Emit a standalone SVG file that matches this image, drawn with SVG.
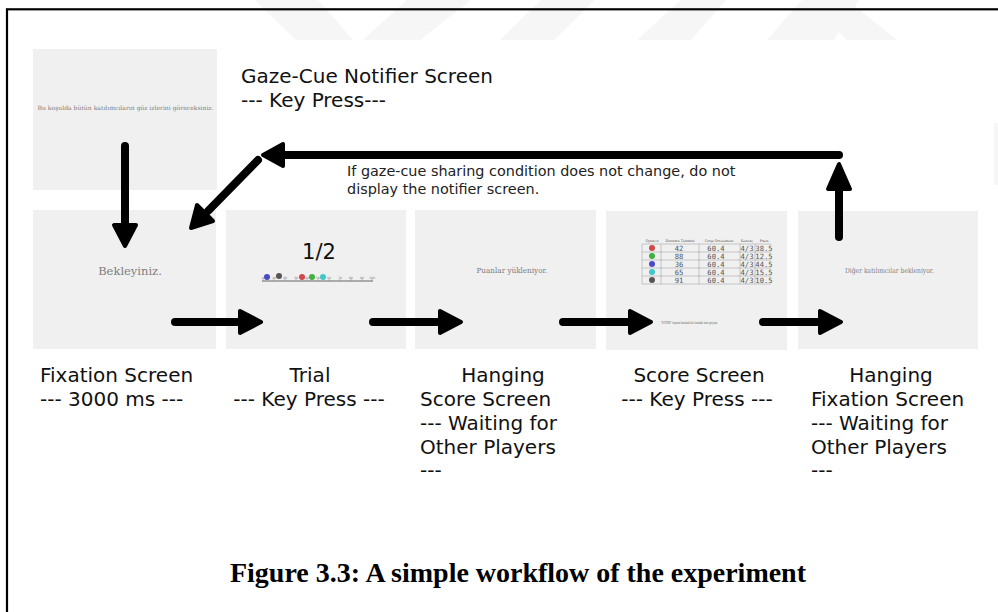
<svg xmlns="http://www.w3.org/2000/svg" width="998" height="612" viewBox="0 0 998 612">
  <defs>
    <style>
      .screen { fill: #f0f0f0; }
      .serif-msg { font-family: "DejaVu Serif", "Liberation Serif", serif; fill: #7e7e7e; text-anchor: middle; }
      .label { font-family: "DejaVu Sans", "Liberation Sans", sans-serif; font-size: 20px; fill: #111; }
      .note { font-family: "DejaVu Sans", "Liberation Sans", sans-serif; font-size: 14.4px; fill: #222; }
      .shaft { stroke: #000; stroke-width: 8; stroke-linecap: round; fill: none; }
      .head { fill: #000; stroke: #000; stroke-width: 4; stroke-linejoin: round; }
      .mark { fill: #f6f6f6; }
      .tbl { stroke: #a8a8a8; stroke-width: 0.6; fill: none; }
      .tblnum { font-family: "DejaVu Sans Mono", "Liberation Mono", monospace; font-size: 7.2px; fill: #555; text-anchor: middle; }
      .tblhead { font-family: "DejaVu Serif", "Liberation Serif", serif; font-size: 3.4px; fill: #555; text-anchor: middle; }
      .tick { font-family: "DejaVu Sans", sans-serif; font-size: 3.2px; fill: #888; text-anchor: middle; }
    </style>
  </defs>

  <rect x="0" y="0" width="998" height="612" fill="#ffffff"/>

  <!-- faint background logo bars -->
  <g id="watermark">
    <polygon class="mark" points="255,0 318,0 353,40 296,40"/>
    <polygon class="mark" points="407,0 471,0 420,40 363,40"/>
    <polygon class="mark" points="541,0 595,0 554,40 500,40"/>
    <polygon class="mark" points="681,0 726,0 691,40 637,40"/>
    <polygon class="mark" points="802,0 859,0 834,40 767,40"/>
    <polygon class="mark" points="808,0 847,0 897,40 847,40"/>
    <rect class="mark" x="994" y="123" width="4" height="62"/>
  </g>

  <!-- page frame -->
  <rect x="7" y="9.3" width="1010" height="640" fill="none" stroke="#000" stroke-width="2.2"/>

  <!-- notifier screen -->
  <g id="notifier">
    <rect class="screen" x="33" y="49" width="184" height="141"/>
    <text class="serif-msg" x="125.5" y="110" font-size="6" textLength="176" lengthAdjust="spacingAndGlyphs">Bu koşulda bütün katılımcıların göz izlerini göreceksiniz.</text>
    <text class="label" x="241" y="83">Gaze-Cue Notifier Screen</text>
    <text class="label" x="241" y="107">--- Key Press---</text>
  </g>

  <!-- fixation screen -->
  <g id="fixation">
    <rect class="screen" x="33" y="210" width="183" height="139"/>
    <text class="serif-msg" x="130" y="275" font-size="11.5">Bekleyiniz.</text>
    <text class="label" x="40" y="382">Fixation Screen</text>
    <text class="label" x="40" y="406">--- 3000 ms ---</text>
  </g>

  <!-- trial screen -->
  <g id="trial">
    <rect class="screen" x="226" y="210" width="180" height="139"/>
    <text x="319" y="259" font-family="DejaVu Sans, Liberation Sans, sans-serif" font-size="21" fill="#111" text-anchor="middle">1/2</text>
    <line x1="262" y1="281" x2="373" y2="281" stroke="#555" stroke-width="0.9"/>
    <g stroke="#888" stroke-width="0.5">
      <line x1="263" y1="278" x2="263" y2="281"/><line x1="274" y1="278" x2="274" y2="281"/>
      <line x1="285" y1="278" x2="285" y2="281"/><line x1="296" y1="278" x2="296" y2="281"/>
      <line x1="307" y1="278" x2="307" y2="281"/><line x1="318" y1="278" x2="318" y2="281"/>
      <line x1="329" y1="278" x2="329" y2="281"/><line x1="340" y1="278" x2="340" y2="281"/>
      <line x1="351" y1="278" x2="351" y2="281"/><line x1="362" y1="278" x2="362" y2="281"/>
      <line x1="372" y1="278" x2="372" y2="281"/>
    </g>
    <g class="tick">
      <text x="263" y="279">0</text><text x="274" y="279">10</text><text x="285" y="279">20</text>
      <text x="296" y="279">30</text><text x="307" y="279">40</text><text x="318" y="279">50</text>
      <text x="329" y="279">60</text><text x="340" y="279">70</text><text x="351" y="279">80</text>
      <text x="362" y="279">90</text><text x="372" y="279">100</text>
    </g>
    <circle cx="267" cy="277" r="3" fill="#4a4ac8"/>
    <circle cx="279" cy="276" r="3" fill="#555"/>
    <circle cx="302" cy="277" r="3" fill="#d04848"/>
    <circle cx="312" cy="277" r="3" fill="#40b040"/>
    <circle cx="323" cy="277" r="3" fill="#40c8c8"/>
    <text class="label" x="310" y="382" text-anchor="middle">Trial</text>
    <text class="label" x="309" y="406" text-anchor="middle">--- Key Press ---</text>
  </g>

  <!-- hanging score screen -->
  <g id="hanging-score">
    <rect class="screen" x="415" y="210" width="181" height="139"/>
    <text class="serif-msg" x="512" y="273" font-size="8" textLength="71" lengthAdjust="spacingAndGlyphs">Puanlar yükleniyor.</text>
    <text class="label" x="503" y="382" text-anchor="middle">Hanging</text>
    <text class="label" x="420" y="406">Score Screen</text>
    <text class="label" x="420" y="430">--- Waiting for</text>
    <text class="label" x="420" y="454">Other Players</text>
    <text class="label" x="420" y="477">---</text>
  </g>

  <!-- score screen -->
  <g id="score">
    <rect class="screen" x="606" y="211" width="181" height="139"/>
    <path class="tbl" d="M642,244 H771 M642,252 H771 M642,260 H771 M642,268 H771 M642,276 H771 M642,284 H771 M642,244 V284 M661,244 V284 M699,244 V284 M740,244 V284 M755,244 V284"/>
    <g class="tblhead">
      <text x="652" y="242">Oyuncu</text>
      <text x="680" y="242">Durumu Tahmini</text>
      <text x="719" y="242">Grup Ortalaması</text>
      <text x="747" y="242">Kazanç</text>
      <text x="764" y="242">Puan</text>
    </g>
    <circle cx="652" cy="248" r="3" fill="#d04848"/>
    <circle cx="652" cy="256" r="3" fill="#40b040"/>
    <circle cx="652" cy="264" r="3" fill="#4a4ac8"/>
    <circle cx="652" cy="272" r="3" fill="#40c8c8"/>
    <circle cx="652" cy="280" r="3" fill="#555"/>
    <g class="tblnum">
      <text x="679" y="250.5">42</text><text x="716" y="250.5">60.4</text><text x="747" y="250.5">4/3</text><text x="764" y="251">38.5</text>
      <text x="679" y="258.5">88</text><text x="716" y="258.5">60.4</text><text x="747" y="258.5">4/3</text><text x="764" y="259">12.5</text>
      <text x="679" y="266.5">36</text><text x="716" y="266.5">60.4</text><text x="747" y="266.5">4/3</text><text x="764" y="267">44.5</text>
      <text x="679" y="274.5">65</text><text x="716" y="274.5">60.4</text><text x="747" y="274.5">4/3</text><text x="764" y="275">15.5</text>
      <text x="679" y="282.5">91</text><text x="716" y="282.5">60.4</text><text x="747" y="282.5">4/3</text><text x="764" y="283">10.5</text>
    </g>
    <text x="689.5" y="324" font-family="DejaVu Serif, Liberation Serif, serif" font-size="4" fill="#666" text-anchor="middle" textLength="57" lengthAdjust="spacingAndGlyphs">"ENTER" tuşuna basarak bir sonraki tura geçiniz.</text>
    <text class="label" x="699" y="382" text-anchor="middle">Score Screen</text>
    <text class="label" x="697" y="406" text-anchor="middle">--- Key Press ---</text>
  </g>

  <!-- hanging fixation screen -->
  <g id="hanging-fixation">
    <rect class="screen" x="798" y="211" width="180" height="138"/>
    <text class="serif-msg" x="889.5" y="273" font-size="7" textLength="89" lengthAdjust="spacingAndGlyphs">Diğer katılımcılar bekleniyor.</text>
    <text class="label" x="891" y="382" text-anchor="middle">Hanging</text>
    <text class="label" x="811" y="406">Fixation Screen</text>
    <text class="label" x="811" y="430">--- Waiting for</text>
    <text class="label" x="811" y="454">Other Players</text>
    <text class="label" x="811" y="477">---</text>
  </g>

  <!-- loop-back note -->
  <g id="loop-note">
    <text class="note" x="347" y="176">If gaze-cue sharing condition does not change, do not</text>
    <text class="note" x="347" y="194">display the notifier screen.</text>
  </g>

  <!-- connectors -->
  <g id="connectors">
    <!-- notifier to fixation -->
    <line class="shaft" x1="125" y1="146" x2="125" y2="226"/>
    <polygon class="head" points="114,225 136,225 125,246"/>
    <!-- loop return: up, across, down-left -->
    <line class="shaft" x1="839" y1="237" x2="839" y2="186"/>
    <polygon class="head" points="828,189 850,189 839,164"/>
    <line class="shaft" x1="839" y1="155" x2="282" y2="155"/>
    <polygon class="head" points="283,144 283,166 263,155"/>
    <line class="shaft" x1="258" y1="160" x2="208" y2="211"/>
    <polygon class="head" points="213,221 197,205 191,228"/>
    <!-- main flow -->
    <line class="shaft" x1="175" y1="322" x2="243" y2="322"/>
    <polygon class="head" points="240,311 240,333 261,322"/>
    <line class="shaft" x1="373" y1="322" x2="443" y2="322"/>
    <polygon class="head" points="440,311 440,333 461,322"/>
    <line class="shaft" x1="563" y1="322" x2="633" y2="322"/>
    <polygon class="head" points="630,311 630,333 651,322"/>
    <line class="shaft" x1="763" y1="322" x2="823" y2="322"/>
    <polygon class="head" points="820,311 820,333 841,322"/>
  </g>

  <!-- caption -->
  <text x="518" y="582" font-family="Liberation Serif, Times New Roman, serif" font-weight="bold" font-size="27" text-anchor="middle" textLength="576" lengthAdjust="spacingAndGlyphs" fill="#000">Figure 3.3: A simple workflow of the experiment</text>
</svg>
